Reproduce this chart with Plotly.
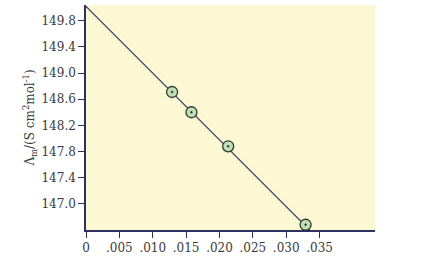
import plotly.graph_objects as go

# data
sqrt_c = [0.0129, 0.0158, 0.0213, 0.0329]
lambda_m = [148.71, 148.40, 147.88, 146.68]
fit_x = [0.0, 0.0335]
fit_y = [150.02, 146.60]

x_tickvals = [0, 0.005, 0.010, 0.015, 0.020, 0.025, 0.030, 0.035]
x_ticktext = ["0", ".005", ".010", ".015", ".020", ".025", ".030", ".035"]
y_tickvals = [147.0, 147.4, 147.8, 148.2, 148.6, 149.0, 149.4, 149.8]

axis_col = "#2e3160"
font_fam = "DejaVu Serif"
txt_col = "#3a3a3a"

fig = go.Figure()
fig.add_trace(go.Scatter(x=fit_x, y=fit_y, mode="lines",
                         line=dict(color="#3b3d66", width=1.2),
                         showlegend=False, hoverinfo="skip"))
fig.add_trace(go.Scatter(x=sqrt_c, y=lambda_m, mode="markers",
                         marker=dict(symbol="circle-dot", size=11, color="#c0dfb6",
                                     line=dict(color="#2a3a30", width=1.3)),
                         showlegend=False))

fig.update_layout(
    width=442, height=260,
    margin=dict(l=86, r=67, t=5, b=22),
    paper_bgcolor="white",
    plot_bgcolor="#fdf8d4",
    font=dict(family=font_fam, size=12, color=txt_col),
    xaxis=dict(range=[0, 0.0433], tickvals=x_tickvals, ticktext=x_ticktext,
               showgrid=False, zeroline=False, showline=True, linecolor=axis_col,
               linewidth=1.5, ticks="outside", ticklen=6, tickcolor=axis_col,
               tickfont=dict(family=font_fam, size=12, color=txt_col)),
    yaxis=dict(range=[146.6, 150.04], tickvals=y_tickvals, tickformat=".1f",
               showgrid=False, zeroline=False, showline=True, linecolor=axis_col,
               linewidth=1.5, ticks="outside", ticklen=6, tickcolor=axis_col,
               tickfont=dict(family=font_fam, size=12, color=txt_col),
               title=dict(text="Λ<sub>m</sub>/(S cm<sup>2</sup>mol<sup>-1</sup>)",
                          font=dict(family=font_fam, size=12, color=txt_col),
                          standoff=4)),
)
fig.write_html("out.html")
